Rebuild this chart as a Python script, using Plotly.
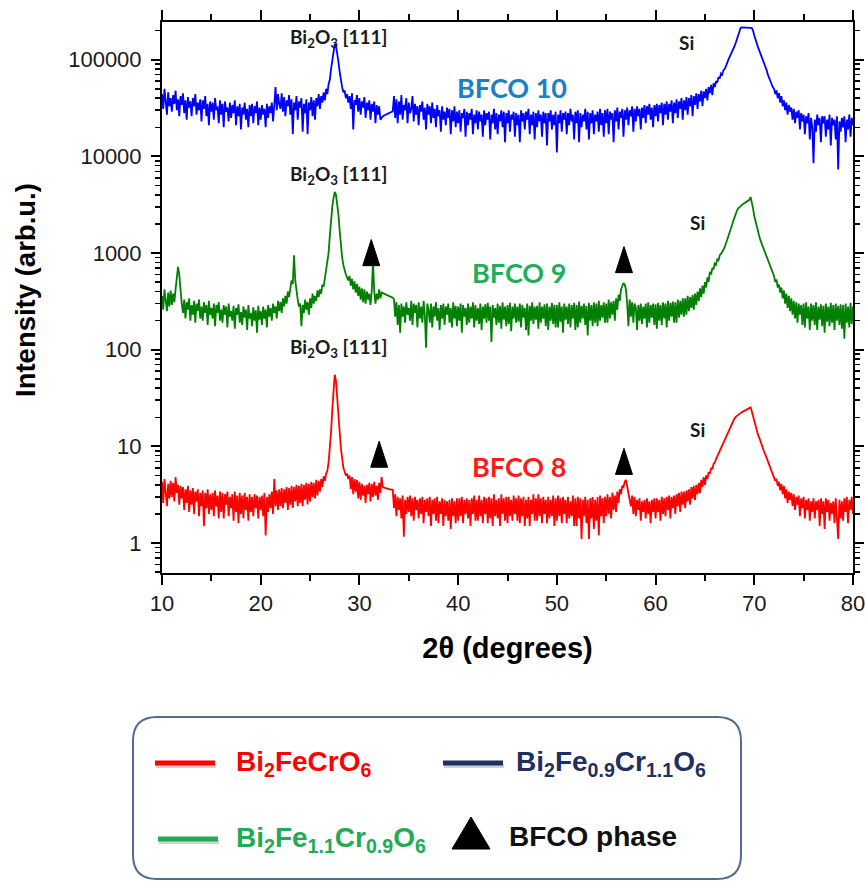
import math
import plotly.graph_objects as go

# ---------------- data ----------------
# 2-theta grid: 10 .. 80 deg in 0.125 deg steps (one row below = one degree)
two_theta = [10 + i / 8 for i in range(561)]

# BFCO 10 (Bi2Fe0.9Cr1.1O6), intensity in thousands of counts
bfco10_thousands = [
    44, 31, 50, 36, 27, 46, 33, 40,
    29, 43, 35, 48, 30, 39, 26, 42,
    34, 45, 28, 38, 24, 41, 32, 37,
    26, 40, 33, 44, 27, 36, 30, 39,
    23, 38, 31, 42, 26, 35, 21, 37,
    29, 36, 24, 40, 30, 33, 22, 38,
    27, 35, 20, 37, 29, 32, 23, 36,
    25, 34, 28, 38, 21, 33, 26, 35,
    19, 32, 27, 36, 24, 31, 20, 34,
    26, 35, 22, 33, 28, 37, 21, 32,
    24, 34, 27, 31, 20, 35, 25, 33,
    28, 36, 23, 34, 52, 30, 44, 35,
    31, 45, 29, 41, 26, 38, 33, 43,
    27, 39, 17, 36, 30, 42, 24, 37,
    32, 40, 18, 35, 28, 39, 17, 36,
    30, 41, 26, 38, 24, 40, 33, 44,
    31, 42, 36, 46, 38, 50, 44, 56,
    62, 80, 100, 125, 145, 140, 118, 95,
    75, 60, 52, 46, 48, 40, 44, 36,
    42, 31, 45, 19, 38, 34, 43, 29,
    40, 27, 37, 32, 41, 25, 36, 30,
    38, 24, 35, 29, 37, 22, 34, 27,
    33, 24, 25.5, 26, 26.5, 27, 27.3, 27.6,
    28, 28.4, 28.8, 29.2, 42, 25, 39, 22,
    37, 27, 43, 24, 34, 30, 40, 22,
    36, 28, 31, 42, 23, 35, 27, 33,
    21, 34, 29, 37, 24, 32, 19, 35,
    27, 33, 22, 36, 25, 31, 20, 34,
    26, 30, 18, 33, 24, 29, 21, 32,
    25, 31, 17, 30, 23, 33, 20, 29,
    22, 30, 18, 28, 25, 31, 16, 29,
    21, 28, 24, 31, 17, 27, 22, 30,
    19, 29, 23, 27, 16, 30, 21, 28,
    24, 29, 15, 27, 22, 31, 19, 28,
    17, 27, 23, 30, 20, 29, 14, 28,
    22, 30, 18, 27, 24, 29, 16, 28,
    21, 27, 14, 30, 23, 28, 19, 29,
    24, 31, 17, 27, 21, 29, 15, 28,
    20, 30, 23, 27, 16, 29, 22, 28,
    13, 28, 23, 30, 19, 27, 21, 29,
    11, 27, 22, 30, 18, 28, 24, 29,
    17, 28, 21, 31, 23, 27, 15, 29,
    22, 30, 14, 28, 20, 27, 23, 31,
    19, 29, 15, 28, 22, 30, 17, 27,
    23, 29, 18, 31, 21, 28, 16, 30,
    22, 31, 17, 29, 24, 28, 14, 30,
    23, 32, 19, 29, 25, 31, 16, 30,
    24, 32, 21, 30, 26, 33, 18, 31,
    23, 33, 26, 31, 19, 32, 25, 34,
    22, 33, 27, 35, 24, 32, 20, 34,
    26, 35, 23, 34, 28, 36, 21, 35,
    27, 37, 24, 35, 29, 38, 22, 36,
    28, 39, 25, 37, 31, 40, 24, 38,
    30, 41, 27, 40, 33, 43, 26, 42,
    34, 45, 31, 44, 37, 48, 33, 47,
    40, 50, 38, 52, 45, 55, 43, 57,
    52, 60, 58, 66, 64, 72, 70, 78,
    80, 88, 92, 100, 106, 114, 120, 130,
    138, 150, 165, 180, 200, 214, 216, 216,
    216, 216, 215, 215, 214, 213, 212, 200,
    178, 160, 148, 135, 125, 116, 110, 100,
    92, 84, 78, 70, 64, 60, 56, 52,
    50, 44, 48, 40, 45, 36, 42, 33,
    38, 30, 36, 27, 34, 29, 32, 24,
    31, 22, 29, 25, 30, 19, 28, 23,
    27, 17, 26, 22, 28, 15, 25, 20,
    8.5, 24, 18, 27, 21, 25, 14, 26,
    22, 26, 16, 24, 19, 27, 13, 25,
    21, 24, 15, 26, 7.3, 23, 18, 25,
    20, 26, 14, 24, 19, 27, 16, 25,
    21,
]
bfco10 = [v * 1000 for v in bfco10_thousands]

# BFCO 9 (Bi2Fe1.1Cr0.9O6), counts
bfco9 = [
    360, 260, 420, 300, 250, 390, 280, 410,
    290, 380, 310, 420, 520, 720, 600, 380,
    300, 240, 330, 210, 310, 260, 340, 200,
    290, 230, 320, 190, 300, 250, 330, 210,
    280, 200, 310, 240, 290, 180, 320, 230,
    270, 210, 300, 175, 290, 240, 310, 200,
    260, 190, 290, 230, 280, 170, 300, 220,
    250, 200, 285, 165, 270, 230, 295, 190,
    245, 180, 280, 215, 260, 160, 290, 210,
    240, 175, 275, 200, 255, 150, 285, 205,
    250, 180, 280, 210, 260, 170, 290, 220,
    270, 200, 300, 240, 280, 210, 320, 250,
    310, 240, 340, 280, 360, 300, 400, 350,
    450, 520, 480, 950, 520, 400, 330, 280,
    300, 175, 290, 240, 330, 260, 310, 230,
    340, 270, 380, 300, 360, 320, 410, 350,
    420, 380, 470, 450, 560, 650, 800, 1000,
    1500, 2200, 3000, 3700, 4300, 4000, 3300, 2500,
    1700, 1200, 900, 750, 650, 600, 560, 520,
    580, 460, 540, 420, 510, 390, 480, 360,
    450, 330, 430, 310, 420, 300, 400, 330,
    380, 290, 410, 815, 400, 300, 380, 330,
    420, 340, 390, 385, 380, 375, 370, 365,
    360, 355, 350, 345, 330, 220, 310, 180,
    290, 150, 300, 220, 280, 190, 310, 230,
    270, 200, 320, 180, 300, 240, 290, 170,
    310, 210, 280, 190, 320, 230, 105, 300,
    260, 190, 300, 170, 280, 220, 310, 200,
    270, 160, 290, 210, 300, 180, 280, 230,
    300, 190, 270, 170, 310, 210, 285, 175,
    280, 200, 300, 150, 290, 220, 270, 180,
    300, 190, 280, 210, 310, 170, 290, 200,
    270, 185, 300, 160, 280, 210, 295, 190,
    305, 200, 280, 120, 290, 215, 270, 180,
    300, 190, 285, 165, 310, 205, 280, 175,
    290, 185, 305, 155, 280, 210, 300, 190,
    280, 195, 300, 170, 290, 215, 270, 160,
    300, 140, 285, 200, 310, 185, 280, 205,
    285, 165, 310, 190, 280, 210, 295, 175,
    300, 160, 280, 200, 305, 185, 290, 170,
    290, 170, 310, 195, 280, 150, 300, 205,
    280, 185, 300, 170, 290, 210, 305, 160,
    290, 170, 315, 190, 285, 210, 300, 180,
    285, 140, 305, 200, 290, 175, 310, 190,
    300, 175, 320, 200, 290, 215, 310, 190,
    300, 190, 330, 210, 310, 230, 320, 200,
    340, 260, 370, 320, 420, 450, 490, 470,
    420, 300, 175, 330, 220, 310, 190, 300,
    270, 160, 290, 200, 300, 185, 280, 210,
    300, 170, 310, 190, 290, 215, 300, 180,
    295, 165, 305, 200, 290, 180, 310, 210,
    300, 170, 320, 200, 305, 220, 315, 190,
    310, 190, 330, 215, 320, 230, 340, 220,
    340, 230, 360, 250, 350, 270, 370, 260,
    380, 290, 400, 320, 430, 350, 460, 380,
    500, 440, 560, 500, 640, 600, 700, 680,
    780, 760, 860, 840, 950, 980, 1050, 1080,
    1150, 1250, 1350, 1450, 1600, 1750, 1950, 2150,
    2350, 2550, 2750, 2900, 3000, 3080, 3150, 3220,
    3280, 3340, 3400, 3480, 3550, 3800, 3400, 2900,
    2400, 2100, 1850, 1650, 1500, 1350, 1250, 1120,
    1030, 950, 880, 820, 770, 700, 660, 600,
    580, 500, 530, 440, 470, 390, 440, 340,
    410, 300, 380, 270, 360, 250, 340, 230,
    320, 210, 310, 190, 300, 230, 290, 180,
    300, 170, 310, 210, 280, 160, 300, 200,
    290, 180, 310, 160, 280, 205, 295, 175,
    285, 150, 300, 195, 280, 175, 305, 190,
    290, 160, 300, 200, 285, 180, 295, 165,
    290, 130, 300, 190, 280, 170, 305, 185,
    280,
]

# BFCO 8 (Bi2FeCrO6), counts
bfco8 = [
    4.3, 2.6, 4.6, 3.2, 2.4, 4.1, 2.9, 4.4,
    3.0, 4.2, 2.7, 4.8, 3.3, 4.0, 2.5, 3.9,
    2.9, 3.8, 2.2, 3.6, 2.6, 3.9, 2.1, 3.5,
    2.5, 3.7, 2.0, 3.4, 2.7, 3.6, 1.9, 3.3,
    2.4, 3.5, 1.5, 3.3, 2.3, 3.6, 2.0, 3.2,
    2.2, 3.3, 1.9, 3.5, 2.4, 3.1, 1.8, 3.4,
    2.1, 3.3, 1.8, 3.2, 2.5, 3.4, 1.9, 3.0,
    2.3, 3.2, 1.7, 3.4, 2.1, 3.1, 1.6, 3.3,
    2.0, 3.1, 1.8, 3.3, 2.2, 3.0, 1.7, 3.2,
    2.1, 3.0, 1.9, 3.2, 2.3, 3.1, 1.8, 3.0,
    2.2, 3.1, 1.9, 3.3, 1.2, 3.0, 2.1, 3.2,
    2.3, 3.4, 2.0, 4.6, 2.4, 3.5, 2.2, 3.6,
    2.4, 3.7, 2.3, 3.6, 2.6, 3.8, 2.2, 3.7,
    2.5, 3.9, 2.3, 3.8, 2.7, 4.0, 2.4, 3.9,
    2.6, 4.1, 2.4, 4.0, 2.8, 4.2, 2.5, 4.1,
    2.7, 4.3, 3.0, 4.2, 2.9, 4.5, 3.1, 4.4,
    3.4, 4.6, 3.8, 4.9, 4.4, 5.2, 5.6, 6.8,
    9, 14, 24, 38, 55, 48, 34, 22,
    14, 9.5, 7.0, 6.0, 5.5, 5.0, 5.2, 4.6,
    5.0, 3.6, 4.8, 3.2, 4.6, 3.4, 4.5, 2.9,
    4.3, 2.8, 4.1, 3.1, 3.9, 2.6, 4.0, 3.2,
    4.2, 2.7, 4.1, 3.0, 4.3, 3.1, 3.9, 2.8,
    4.2, 3.3, 4.8, 3.8, 3.75, 3.7, 3.68, 3.65,
    3.62, 3.6, 3.58, 3.55, 2.3, 3.2, 1.9, 3.0,
    2.2, 2.9, 1.8, 3.1, 1.16, 2.8, 2.0, 3.0,
    2.1, 3.1, 1.9, 2.9, 1.7, 3.0, 2.2, 2.8,
    1.8, 2.9, 2.0, 3.0, 1.6, 2.8, 2.1, 2.9,
    1.9, 3.0, 1.5, 2.8, 2.0, 2.9, 1.7, 3.0,
    1.6, 2.7, 2.0, 2.9, 1.5, 2.8, 1.9, 2.7,
    1.7, 2.8, 1.4, 2.9, 1.9, 2.7, 1.6, 2.9,
    1.7, 2.9, 1.9, 3.0, 1.6, 2.8, 2.0, 2.9,
    1.8, 2.8, 1.5, 2.9, 2.0, 3.1, 1.7, 2.8,
    1.7, 3.1, 1.9, 2.8, 1.6, 3.0, 2.0, 2.9,
    1.6, 3.0, 1.8, 2.9, 1.5, 3.2, 1.9, 2.8,
    1.8, 2.9, 1.5, 3.2, 2.0, 2.9, 1.7, 3.0,
    1.6, 3.0, 1.9, 2.8, 1.7, 3.1, 2.0, 2.9,
    1.7, 3.1, 1.6, 2.9, 1.9, 3.0, 1.5, 2.8,
    1.8, 3.0, 1.5, 2.8, 2.0, 3.2, 1.7, 2.9,
    1.7, 3.2, 1.9, 2.9, 1.6, 3.0, 2.0, 2.8,
    1.6, 3.0, 1.8, 2.8, 1.9, 3.1, 1.5, 2.9,
    1.7, 3.1, 1.9, 2.9, 1.6, 3.0, 2.0, 2.8,
    1.6, 3.0, 1.8, 2.7, 1.9, 3.1, 1.5, 2.9,
    1.5, 3.0, 1.8, 2.9, 1.1, 2.8, 1.9, 3.0,
    1.6, 2.8, 1.1, 2.9, 1.8, 3.0, 1.4, 2.8,
    1.7, 3.0, 1.2, 3.1, 1.9, 2.9, 1.6, 3.0,
    1.9, 3.2, 2.0, 3.0, 1.8, 3.3, 2.2, 3.1,
    2.1, 3.4, 2.6, 3.6, 3.2, 3.9, 3.8, 4.3,
    4.5, 3.9, 3.4, 2.9, 2.4, 3.1, 2.0, 3.0,
    1.9, 2.8, 2.2, 2.9, 1.7, 2.7, 2.1, 2.8,
    1.8, 2.9, 2.0, 2.7, 1.6, 2.8, 2.1, 2.9,
    1.8, 2.9, 2.1, 2.8, 1.7, 3.0, 2.0, 2.9,
    1.9, 3.0, 2.2, 3.1, 1.8, 3.0, 2.3, 3.1,
    2.0, 3.2, 2.4, 3.3, 2.1, 3.4, 2.5, 3.4,
    2.3, 3.5, 2.7, 3.6, 2.5, 3.8, 2.9, 3.9,
    2.8, 4.0, 3.2, 4.2, 3.3, 4.5, 3.8, 4.8,
    4.0, 5.0, 4.6, 5.4, 5.2, 6.0, 5.8, 6.6,
    6.8, 7.4, 7.9, 8.5, 9.0, 9.8, 10.5, 11,
    11.8, 12.5, 13.3, 14.2, 15.2, 16.3, 17.4, 18.5,
    19.5, 20.2, 20.8, 21.3, 21.8, 22.2, 22.6, 23,
    23.3, 23.7, 24.1, 24.5, 25, 25.3, 23, 20.5,
    18, 16, 14.5, 13.2, 12.3, 11.2, 10.3, 9.5,
    8.8, 8.2, 7.6, 7.0, 6.5, 6.0, 5.6, 5.2,
    4.9, 4.4, 4.6, 3.9, 4.3, 3.5, 4.1, 3.2,
    3.9, 2.9, 3.6, 2.6, 3.4, 2.8, 3.3, 2.4,
    3.2, 2.2, 3.0, 2.5, 3.1, 1.9, 2.9, 2.3,
    3.0, 1.8, 2.8, 2.2, 2.9, 1.7, 2.7, 2.1,
    2.9, 1.8, 2.7, 2.2, 2.8, 1.5, 2.9, 2.0,
    2.7, 1.4, 2.9, 2.1, 2.8, 1.7, 2.6, 2.0,
    2.7, 1.6, 2.9, 2.0, 1.1, 2.8, 1.8, 2.7,
    1.7, 2.9, 2.1, 3.0, 1.6, 2.8, 2.2, 3.0,
    2.0,
]

# BFCO phase markers (2theta, intensity at marker centre)
phase_x = [31.2, 56.8, 32.0, 56.8]
phase_y = [1010, 855, 8.3, 7.0]

# peak labels: (text, 2theta, intensity)
peak_labels = [
    ("Bi<sub>2</sub>O<sub>3</sub> [111]", 27.9, 169000),
    ("Bi<sub>2</sub>O<sub>3</sub> [111]", 27.9, 6470),
    ("Bi<sub>2</sub>O<sub>3</sub> [111]", 27.9, 105),
    ("Si", 63.1, 150000),
    ("Si", 64.2, 2050),
    ("Si", 64.2, 15),
]
sample_labels = [
    ("BFCO 10", 45.5, 51000, "#1b7fc6"),
    ("BFCO 9", 46.2, 627, "#1fae5b"),
    ("BFCO 8", 46.2, 6.2, "#ff1a1a"),
]

x_ticks = [10, 20, 30, 40, 50, 60, 70, 80]
x_minor = [15, 25, 35, 45, 55, 65, 75]
y_ticks = [1, 10, 100, 1000, 10000, 100000]
y_ticktext = ["1", "10", "100", "1000", "10000", "100000"]
y_minor = [m * 10 ** k for k in range(-1, 6) for m in range(2, 10)]

assert len(two_theta) == len(bfco10) == len(bfco9) == len(bfco8)

# ---------------- figure ----------------
fig = go.Figure()
for ys, col in [(bfco10, "#0000ff"), (bfco9, "#008000"), (bfco8, "#ff0000")]:
    fig.add_trace(go.Scatter(x=two_theta, y=ys, mode="lines",
                             line=dict(color=col, width=1.8), showlegend=False,
                             hoverinfo="skip"))

# triangles (BFCO phase) drawn as filled polygons around the marker positions
tri_half_w = 0.86   # deg
tri_h = 0.27        # decades
tx, ty = [], []
for xv, yv in zip(phase_x, phase_y):
    ly = math.log10(yv)
    lo, hi = 10 ** (ly - tri_h / 2), 10 ** (ly + tri_h / 2)
    tx += [xv - tri_half_w, xv + tri_half_w, xv, xv - tri_half_w, None]
    ty += [lo, lo, hi, lo, None]
fig.add_trace(go.Scatter(x=tx, y=ty, mode="lines", fill="toself", fillcolor="black",
                         line=dict(color="black", width=1), showlegend=False, hoverinfo="skip"))

annotations = []
for txt, xv, yv in peak_labels:
    annotations.append(dict(x=xv, y=math.log10(yv), xref="x", yref="y", text="<b>" + txt + "</b>",
                            showarrow=False, font=dict(family="Lato", size=19, color="#1a1a1a")))
for txt, xv, yv, col in sample_labels:
    annotations.append(dict(x=xv, y=math.log10(yv), xref="x", yref="y", text="<b>" + txt + "</b>",
                            showarrow=False, font=dict(family="Lato", size=27, color=col)))

# ---------------- geometry (page pixels; body margin removed by post_script) ----------------
FIG_W, FIG_H = 865, 881
L, R, T, B = 162, 853, 22, 573          # plot area on the page


def px(v):
    return (v - L) / (R - L)


def py(v):
    return (B - v) / (B - T)


def rounded_rect(x0, y0, x1, y1, r):
    pts = [
        f"M{px(x0 + r)},{py(y0)}", f"L{px(x1 - r)},{py(y0)}",
        f"Q{px(x1)},{py(y0)} {px(x1)},{py(y0 + r)}", f"L{px(x1)},{py(y1 - r)}",
        f"Q{px(x1)},{py(y1)} {px(x1 - r)},{py(y1)}", f"L{px(x0 + r)},{py(y1)}",
        f"Q{px(x0)},{py(y1)} {px(x0)},{py(y1 - r)}", f"L{px(x0)},{py(y0 + r)}",
        f"Q{px(x0)},{py(y0)} {px(x0 + r)},{py(y0)}", "Z",
    ]
    return " ".join(pts)


# y-axis title (placed as a rotated annotation for exact positioning)
annotations.append(dict(x=px(25), y=py(290), xref="paper", yref="paper", xanchor="center",
                        yanchor="middle", textangle=-90, showarrow=False,
                        text="<b>Intensity (arb.u.)</b>",
                        font=dict(family="Liberation Sans, Arial", size=27.5, color="black")))

shapes = [dict(type="path", xref="paper", yref="paper", path=rounded_rect(133, 717, 741, 879, 24),
               line=dict(color="#4f6d8f", width=2), fillcolor="white", layer="below")]

legend_lines = [(155, 215, 763, "#ff0000"), (443, 503, 763, "#1f3060"), (158, 218, 839, "#22aa55")]
for x0, x1, yv, col in legend_lines:
    shapes.append(dict(type="line", xref="paper", yref="paper", x0=px(x0 + 1), x1=px(x1 + 1),
                       y0=py(yv + 3), y1=py(yv + 3), line=dict(color="rgba(0,0,0,0.18)", width=4)))
    shapes.append(dict(type="line", xref="paper", yref="paper", x0=px(x0), x1=px(x1),
                       y0=py(yv), y1=py(yv), line=dict(color=col, width=5)))
shapes.append(dict(type="path", xref="paper", yref="paper",
                   path=f"M{px(452)},{py(849)} L{px(490)},{py(849)} L{px(471)},{py(817)} Z",
                   fillcolor="black", line=dict(color="black", width=1)))

legend_texts = [
    ("Bi<sub>2</sub>FeCrO<sub>6</sub>", 234, 763, "#ff0000"),
    ("Bi<sub>2</sub>Fe<sub>0.9</sub>Cr<sub>1.1</sub>O<sub>6</sub>", 514, 763, "#1f3060"),
    ("Bi<sub>2</sub>Fe<sub>1.1</sub>Cr<sub>0.9</sub>O<sub>6</sub>", 234, 839, "#22aa55"),
    ("BFCO phase", 507, 836, "#111111"),
]
for txt, xv, yv, col in legend_texts:
    annotations.append(dict(x=px(xv), y=py(yv), xref="paper", yref="paper", xanchor="left",
                            yanchor="middle", text="<b>" + txt + "</b>", showarrow=False,
                            font=dict(family="Liberation Sans, Arial", size=28, color=col)))

axis_common = dict(showline=True, linewidth=2, linecolor="black", mirror="ticks", ticks="outside",
                   tickwidth=2, tickcolor="black", showgrid=False, zeroline=False, automargin=False,
                   ticklabeloverflow="allow",
                   tickfont=dict(family="Liberation Sans, Arial", size=22, color="#1a1a1a"))

fig.update_xaxes(range=[10, 80], tickvals=x_ticks, ticklen=10,
                 minor=dict(tickvals=x_minor, ticks="outside", ticklen=6, tickwidth=2,
                            tickcolor="black", showgrid=False),
                 title=dict(text="<b>2θ (degrees)</b>", standoff=22,
                            font=dict(family="Liberation Sans, Arial", size=29, color="black")),
                 **axis_common)
fig.update_yaxes(type="log", range=[-0.31, 5.39], tickvals=y_ticks, ticktext=y_ticktext, ticklen=9,
                 ticklabelstandoff=5,
                 minor=dict(tickvals=y_minor, ticks="outside", ticklen=5, tickwidth=1.5,
                            tickcolor="black", showgrid=False),
                 **axis_common)

fig.update_layout(width=FIG_W, height=FIG_H, margin=dict(l=L, r=FIG_W - R, t=T, b=FIG_H - B),
                  plot_bgcolor="white", paper_bgcolor="white", showlegend=False,
                  annotations=annotations, shapes=shapes)

fig.write_html("out.html", config={"displayModeBar": False, "staticPlot": True},
               post_script="document.body.style.margin='0';document.body.style.overflow='hidden';")
